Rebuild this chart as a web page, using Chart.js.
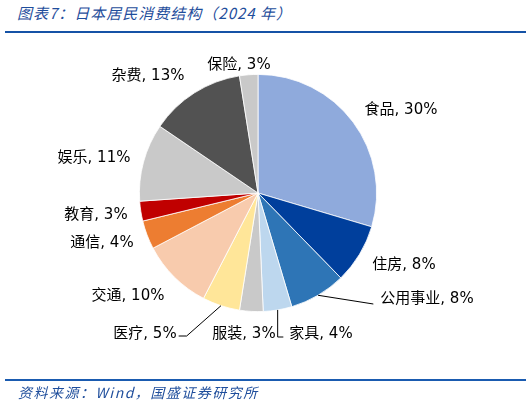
<!DOCTYPE html>
<html>
<head>
<meta charset="utf-8">
<script src="https://cdn.jsdelivr.net/npm/chart.js@4"></script>
<style>
  html, body { margin: 0; padding: 0; background: #fff; }
  #wrap { position: relative; width: 531px; height: 405px; overflow: hidden; }
  #title {
    position: absolute; left: 17px; top: 2px;
    font: italic 15px "Noto Sans CJK SC", "DejaVu Sans", sans-serif;
    color: #1f4e9c; white-space: nowrap; letter-spacing: 1px;
  }
  #topLine { position: absolute; left: 5px; top: 31px; width: 521px; height: 2px; background: #1552a6; }
  #bottomLine { position: absolute; left: 5px; top: 379px; width: 521px; height: 2px; background: #1a5bb0; }
  #source {
    position: absolute; left: 18px; top: 382px;
    font: italic 14px "Noto Sans CJK SC", "DejaVu Sans", sans-serif;
    color: #1f4e9c; white-space: nowrap; letter-spacing: 1.5px;
  }
  #chartBox { position: absolute; left: 0; top: 0; width: 531px; height: 405px; }
</style>
</head>
<body>
<div id="wrap">
  <div id="title">图表7：日本居民消费结构（2024 年）</div>
  <div id="topLine"></div>
  <div id="chartBox"><canvas id="myChart"></canvas></div>
  <div id="bottomLine"></div>
  <div id="source">资料来源：Wind，国盛证券研究所</div>
</div>

<script>
// --- data (share of consumption, %) ---
const categories = ['食品', '住房', '公用事业', '家具', '服装', '医疗', '交通', '通信', '教育', '娱乐', '杂费', '保险'];
const shares = [29.6, 8.1, 7.7, 3.9, 3.2, 5.1, 9.7, 3.9, 2.7, 10.6, 13.0, 2.5];

// slice colours, same order as categories
const sliceColors = ['#8faadc', '#003f9c', '#2e75b6', '#bdd7ee', '#c9c9c9', '#ffe699',
                     '#f8cbad', '#ed7d31', '#c00000', '#c9c9c9', '#525252', '#c9c9c9'];

// where each label sits, relative to the pie centre (layout only)
const labelOffsets = [[143, -83], [146, 72], [169, 106], [63, 141], [-14, 141], [-113, 141],
                      [-130, 103], [-156, 50], [-162, 22], [-164, -35], [-110, -117], [-19, -128]];
// leader line style per slice: null, 'straight', 'elbowDown', 'bentLeft'
const leaderStyle = [null, null, 'straight', 'elbowDown', null, 'bentLeft',
                     null, null, null, null, null, null];

const labelFont = '15px "DejaVu Sans", "Noto Sans CJK SC", sans-serif';

// draws "name, xx%" labels and the few leader lines
const pieLabels = {
  id: 'pieLabels',
  afterDatasetsDraw(chart) {
    const ctx = chart.ctx;
    const arcs = chart.getDatasetMeta(0).data;
    ctx.save();
    ctx.font = labelFont;
    ctx.textBaseline = 'middle';
    ctx.textAlign = 'center';
    arcs.forEach((arc, i) => {
      const { x, y, outerRadius, startAngle, endAngle } = arc.getProps(['x', 'y', 'outerRadius', 'startAngle', 'endAngle'], true);
      const mid = (startAngle + endAngle) / 2;
      const ex = x + outerRadius * Math.cos(mid);
      const ey = y + outerRadius * Math.sin(mid);
      const text = categories[i] + ', ' + Math.round(shares[i]) + '%';
      const w = ctx.measureText(text).width;
      const lx = x + labelOffsets[i][0];
      const ly = y + labelOffsets[i][1];

      ctx.strokeStyle = '#000';
      ctx.lineWidth = 1;
      const style = leaderStyle[i];
      if (style === 'straight') {
        ctx.beginPath();
        ctx.moveTo(ex, ey);
        ctx.lineTo(lx - w / 2 - 7, ly + 5);
        ctx.stroke();
      } else if (style === 'elbowDown') {
        ctx.beginPath();
        ctx.moveTo(ex, ey);
        ctx.lineTo(ex, ly + 3);
        ctx.lineTo(lx - w / 2 - 6, ly + 3);
        ctx.stroke();
      } else if (style === 'bentLeft') {
        ctx.beginPath();
        ctx.moveTo(ex, ey);
        ctx.lineTo(lx + w / 2 + 10, ly + 2);
        ctx.lineTo(lx + w / 2 + 2, ly + 2);
        ctx.stroke();
      }

      ctx.fillStyle = '#000';
      ctx.fillText(text, lx, ly);
    });
    ctx.restore();
  }
};

window.addEventListener('load', () => {
  const ctx = document.getElementById('myChart').getContext('2d');
  new Chart(ctx, {
    type: 'pie',
    data: {
      labels: categories,
      datasets: [{
        data: shares,
        backgroundColor: sliceColors,
        borderColor: '#ffffff',
        borderWidth: 0.8
      }]
    },
    options: {
      responsive: true,
      maintainAspectRatio: false,
      animation: false,
      layout: { padding: { left: 139, top: 74, right: 154, bottom: 93 } },
      plugins: {
        legend: { display: false },
        tooltip: { enabled: false }
      }
    },
    plugins: [pieLabels]
  });
});
</script>
</body>
</html>
